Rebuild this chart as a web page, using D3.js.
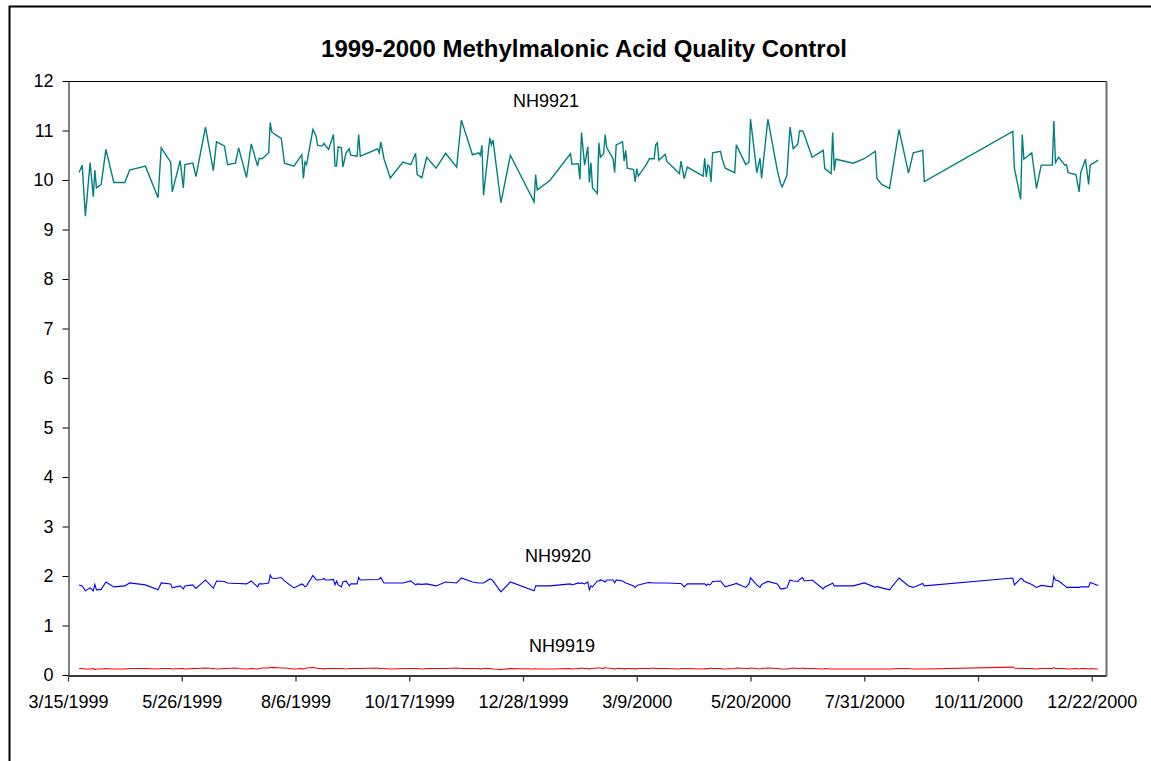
<!DOCTYPE html>
<html>
<head>
<meta charset="utf-8">
<script src="https://cdn.jsdelivr.net/npm/d3@7"></script>
<style>
  body { margin: 0; background: #fff; }
  svg { display: block; font-family: "Liberation Sans", Arial, sans-serif; }
</style>
</head>
<body>
<script>
// run dates (shared by the three QC materials)
var dates = [
  "3/22/1999","3/24/1999","3/26/1999","3/29/1999","3/31/1999","4/1/1999","4/2/1999","4/5/1999","4/8/1999","4/13/1999",
  "4/20/1999","4/23/1999","5/3/1999","5/11/1999","5/13/1999","5/19/1999","5/20/1999","5/25/1999","5/27/1999","5/28/1999",
  "6/2/1999","6/4/1999","6/10/1999","6/15/1999","6/17/1999","6/22/1999","6/24/1999","6/29/1999","7/1/1999","7/6/1999",
  "7/9/1999","7/13/1999","7/14/1999","7/16/1999","7/20/1999","7/21/1999","7/22/1999","7/24/1999","7/28/1999","7/30/1999",
  "8/5/1999","8/10/1999","8/11/1999","8/12/1999","8/13/1999","8/17/1999","8/19/1999","8/20/1999","8/23/1999","8/24/1999",
  "8/25/1999","8/27/1999","8/30/1999","8/31/1999","9/1/1999","9/2/1999","9/4/1999","9/5/1999","9/7/1999","9/9/1999",
  "9/10/1999","9/14/1999","9/15/1999","9/16/1999","9/27/1999","9/28/1999","9/29/1999","10/1/1999","10/5/1999","10/13/1999",
  "10/18/1999","10/21/1999","10/22/1999","10/25/1999","10/28/1999","11/3/1999","11/9/1999","11/16/1999","11/19/1999","11/26/1999",
  "11/30/1999","12/1/1999","12/2/1999","12/3/1999","12/7/1999","12/8/1999","12/9/1999","12/14/1999","12/20/1999","1/4/2000",
  "1/5/2000","1/6/2000","1/14/2000","1/27/2000","1/28/2000","2/1/2000","2/2/2000","2/3/2000","2/5/2000","2/7/2000",
  "2/8/2000","2/9/2000","2/10/2000","2/13/2000","2/14/2000","2/15/2000","2/17/2000","2/18/2000","2/19/2000","2/23/2000",
  "2/24/2000","2/25/2000","2/29/2000","3/1/2000","3/2/2000","3/3/2000","3/7/2000","3/8/2000","3/9/2000","3/10/2000",
  "3/15/2000","3/17/2000","3/20/2000","3/21/2000","3/22/2000","3/23/2000","3/27/2000","3/28/2000","4/5/2000","4/6/2000",
  "4/8/2000","4/10/2000","4/20/2000","4/21/2000","4/22/2000","4/23/2000","4/24/2000","4/25/2000","4/26/2000","5/1/2000",
  "5/2/2000","5/4/2000","5/10/2000","5/11/2000","5/17/2000","5/19/2000","5/20/2000","5/24/2000","5/26/2000","5/27/2000",
  "5/31/2000","6/6/2000","6/8/2000","6/9/2000","6/12/2000","6/14/2000","6/16/2000","6/19/2000","6/20/2000","6/22/2000",
  "6/23/2000","6/28/2000","7/5/2000","7/6/2000","7/10/2000","7/11/2000","7/12/2000","7/13/2000","7/24/2000","7/31/2000",
  "8/7/2000","8/8/2000","8/11/2000","8/16/2000","8/22/2000","8/28/2000","8/31/2000","9/6/2000","9/7/2000","11/2/2000",
  "11/3/2000","11/7/2000","11/8/2000","11/9/2000","11/14/2000","11/17/2000","11/20/2000","11/27/2000","11/28/2000","11/29/2000",
  "12/1/2000","12/5/2000","12/6/2000","12/7/2000","12/12/2000","12/14/2000","12/15/2000","12/18/2000","12/20/2000","12/21/2000",
  "12/26/2000"
];

var nh9921 = [
  10.15,10.30,9.27,10.35,9.66,10.20,9.84,9.91,10.62,9.95,
  9.95,10.20,10.28,9.64,10.65,10.36,9.76,10.39,9.84,10.31,
  10.34,10.07,11.07,10.19,10.77,10.69,10.31,10.34,10.65,10.05,
  10.73,10.28,10.44,10.43,10.55,11.16,10.97,10.92,10.84,10.34,
  10.28,10.51,10.03,10.36,10.31,11.02,10.89,10.70,10.69,10.74,
  10.69,10.62,10.92,10.28,10.28,10.67,10.65,10.26,10.55,10.63,
  10.50,10.48,10.92,10.48,10.63,10.55,10.77,10.43,10.04,10.36,
  10.31,10.54,10.11,10.05,10.46,10.24,10.54,10.26,11.21,10.51,
  10.55,10.50,10.70,9.69,10.85,10.71,10.81,9.54,10.50,9.56,
  10.11,9.80,9.99,10.53,10.32,10.33,10.01,10.96,10.30,10.67,
  9.95,10.35,9.84,9.73,10.75,10.46,10.53,10.92,10.65,10.43,
  10.15,10.71,10.77,10.38,10.60,10.24,10.21,9.96,10.23,10.08,
  10.31,10.43,10.43,10.71,10.75,10.40,10.52,10.38,10.13,10.38,
  10.03,10.26,10.08,10.44,10.06,10.30,10.26,9.96,10.55,10.58,
  10.43,10.24,10.15,10.71,10.31,10.36,11.23,10.15,10.44,10.03,
  11.23,10.19,9.93,9.86,10.09,11.07,10.63,10.73,10.99,10.99,
  10.92,10.46,10.60,10.23,10.13,10.96,10.19,10.42,10.34,10.43,
  10.58,10.03,9.91,9.83,11.02,10.14,10.55,10.60,9.97,10.98,
  10.24,9.61,10.92,10.42,10.55,9.83,10.30,10.30,11.19,10.35,
  10.46,10.30,10.31,10.15,10.11,9.76,10.15,10.42,9.91,10.30,
  10.40
];

var nh9920 = [
  1.82,1.80,1.70,1.76,1.70,1.83,1.72,1.73,1.88,1.78,
  1.80,1.86,1.82,1.72,1.86,1.84,1.76,1.80,1.74,1.80,
  1.82,1.75,1.92,1.75,1.90,1.89,1.86,1.85,1.85,1.84,
  1.90,1.78,1.84,1.84,1.86,2.02,1.96,1.95,1.97,1.90,
  1.76,1.84,1.82,1.78,1.80,2.01,1.93,1.92,1.93,1.95,
  1.92,1.92,1.93,1.82,1.90,1.82,1.78,1.88,1.90,1.80,
  1.84,1.84,1.97,1.92,1.93,1.94,1.97,1.86,1.86,1.86,
  1.90,1.82,1.84,1.83,1.84,1.80,1.88,1.86,1.96,1.88,
  1.86,1.86,1.86,1.86,1.94,1.93,1.90,1.68,1.88,1.70,
  1.80,1.80,1.80,1.84,1.82,1.86,1.85,1.86,1.84,1.88,
  1.72,1.80,1.78,1.90,1.90,1.92,1.90,1.88,1.92,1.92,
  1.86,1.92,1.90,1.88,1.86,1.85,1.80,1.77,1.80,1.82,
  1.86,1.87,1.86,1.86,1.86,1.86,1.86,1.86,1.85,1.85,
  1.78,1.84,1.84,1.84,1.81,1.84,1.82,1.84,1.89,1.90,
  1.86,1.78,1.84,1.85,1.77,1.84,1.96,1.82,1.77,1.83,
  1.89,1.84,1.74,1.74,1.76,1.92,1.90,1.89,1.93,1.97,
  1.90,1.92,1.74,1.78,1.84,1.86,1.80,1.80,1.80,1.86,
  1.77,1.79,1.76,1.72,1.96,1.80,1.77,1.85,1.80,1.96,
  1.82,1.95,1.94,1.90,1.83,1.77,1.81,1.78,1.99,1.92,
  1.90,1.80,1.77,1.77,1.77,1.77,1.78,1.78,1.78,1.87,
  1.81
];

var nh9919 = [
  0.13,0.13,0.12,0.12,0.13,0.11,0.12,0.12,0.13,0.12,
  0.12,0.13,0.13,0.12,0.13,0.13,0.12,0.13,0.13,0.12,
  0.13,0.13,0.14,0.13,0.12,0.13,0.13,0.14,0.13,0.12,
  0.13,0.12,0.13,0.14,0.14,0.15,0.15,0.15,0.14,0.14,
  0.12,0.13,0.12,0.13,0.14,0.15,0.14,0.13,0.13,0.12,
  0.13,0.13,0.13,0.13,0.13,0.13,0.13,0.13,0.12,0.13,
  0.13,0.13,0.13,0.13,0.14,0.13,0.13,0.13,0.12,0.13,
  0.13,0.13,0.13,0.12,0.13,0.13,0.13,0.14,0.13,0.13,
  0.13,0.12,0.13,0.13,0.13,0.13,0.12,0.11,0.13,0.12,
  0.13,0.12,0.12,0.13,0.12,0.13,0.13,0.14,0.13,0.13,
  0.12,0.13,0.13,0.14,0.14,0.14,0.13,0.15,0.14,0.13,
  0.12,0.13,0.13,0.12,0.13,0.13,0.13,0.12,0.13,0.13,
  0.13,0.13,0.14,0.13,0.13,0.13,0.13,0.13,0.12,0.13,
  0.13,0.13,0.12,0.13,0.12,0.13,0.13,0.14,0.13,0.13,
  0.12,0.12,0.13,0.14,0.13,0.13,0.14,0.13,0.12,0.13,
  0.14,0.13,0.12,0.12,0.12,0.13,0.14,0.13,0.13,0.14,
  0.13,0.13,0.12,0.13,0.12,0.12,0.12,0.12,0.12,0.12,
  0.12,0.12,0.12,0.12,0.13,0.13,0.12,0.12,0.12,0.16,
  0.14,0.13,0.14,0.13,0.13,0.12,0.13,0.13,0.15,0.13,
  0.13,0.13,0.12,0.12,0.13,0.12,0.13,0.13,0.12,0.13,
  0.12
];

var seriesNames = ["NH9921", "NH9920", "NH9919"];
var seriesColors = ["#008080", "#0000ff", "#ff0000"];
var yTicks = [0, 1, 2, 3, 4, 5, 6, 7, 8, 9, 10, 11, 12];
var axisStart = "3/15/1999", axisEnd = "12/31/2000", tickStepDays = 72;

var width = 1151, height = 761;
var margin = { left: 68, right: 45, top: 81, bottom: 86 };

var parse = d3.timeParse("%m/%d/%Y");
var fmt = d3.timeFormat("%-m/%-d/%Y");
var t0 = parse(axisStart), t1 = parse(axisEnd);

var x = d3.scaleTime().domain([t0, t1]).range([margin.left, width - margin.right]);
var y = d3.scaleLinear().domain([0, 12]).range([height - margin.bottom, margin.top]);

var svg = d3.select("body").append("svg")
    .attr("width", width)
    .attr("height", height);

svg.append("rect").attr("width", width).attr("height", height).attr("fill", "#fff");

// outer chart frame (only top and left edges are in view)
svg.append("path")
    .attr("d", "M9.5," + height + "V6.5H" + width)
    .attr("fill", "none")
    .attr("stroke", "#000")
    .attr("stroke-width", 2);

svg.append("text")
    .attr("x", 584)
    .attr("y", 57)
    .attr("text-anchor", "middle")
    .style("font-size", "24px")
    .style("font-weight", "bold")
    .text("1999-2000 Methylmalonic Acid Quality Control");

var x0 = margin.left, x1 = width - margin.right, yTop = margin.top, yBot = height - margin.bottom;

// plot area border: top black, right grey shadow
svg.append("line").attr("x1", x0).attr("x2", x1 + 1).attr("y1", yTop + 0.5).attr("y2", yTop + 0.5)
    .attr("stroke", "#000").attr("stroke-width", 1);
svg.append("line").attr("x1", x1 + 0.5).attr("x2", x1 + 0.5).attr("y1", yTop).attr("y2", yBot + 1)
    .attr("stroke", "#6e6e6e").attr("stroke-width", 2);

// y axis
var yAxis = d3.axisLeft(y).tickValues(yTicks).tickSize(6).tickSizeOuter(0).tickPadding(9);
var gy = svg.append("g").attr("transform", "translate(" + (x0 + 0.5) + ",0)").call(yAxis);
gy.select(".domain").attr("stroke", "#000");
gy.selectAll(".tick line").attr("stroke", "#000");
gy.selectAll(".tick text").style("font-size", "18px").attr("fill", "#000")
    .style("font-family", "'Liberation Sans', Arial, sans-serif");

// x axis
var xTicks = d3.range(0, 10).map(function (k) { return d3.timeDay.offset(t0, k * tickStepDays); });
var xAxis = d3.axisBottom(x).tickValues(xTicks).tickFormat(fmt).tickSize(6).tickSizeOuter(0).tickPadding(14);
var gx = svg.append("g").attr("transform", "translate(0," + (yBot + 0.5) + ")").call(xAxis);
gx.select(".domain").attr("stroke", "#3a3a3a").attr("stroke-width", 2);
gx.selectAll(".tick line").attr("stroke", "#3a3a3a").attr("stroke-width", 1.3);
gx.selectAll(".tick text").style("font-size", "18px").attr("fill", "#000")
    .style("font-family", "'Liberation Sans', Arial, sans-serif");

// series lines
var dts = dates.map(parse);
var allSeries = [nh9921, nh9920, nh9919];
var widths = [1.4, 1.1, 1.1];

var line = d3.line()
    .x(function (d) { return x(d.date); })
    .y(function (d) { return y(d.value); });

allSeries.forEach(function (vals, i) {
    var pts = vals.map(function (v, j) { return { date: dts[j], value: v }; });
    svg.append("path")
        .datum(pts)
        .attr("fill", "none")
        .attr("stroke", seriesColors[i])
        .attr("stroke-width", widths[i])
        .attr("stroke-linejoin", "miter")
        .attr("d", line);
});

// series labels
var labelPos = [[546, 107], [558, 562], [562, 652]];
seriesNames.forEach(function (name, i) {
    svg.append("text")
        .attr("x", labelPos[i][0])
        .attr("y", labelPos[i][1])
        .attr("text-anchor", "middle")
        .style("font-size", "18px")
        .attr("fill", "#000")
        .text(name);
});
</script>
</body>
</html>
